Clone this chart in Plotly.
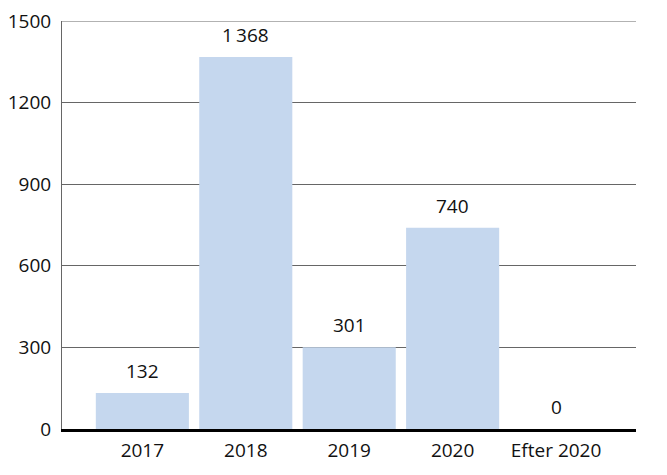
import plotly.graph_objects as go

categories = ["2017", "2018", "2019", "2020", "Efter 2020"]
values = [132, 1368, 301, 740, 0]
value_labels = ["132", "1\u2009368", "301", "740", "0"]
y_ticks = [0, 300, 600, 900, 1200, 1500]

FONT = "Open Sans"
TXT = "#111111"

fig = go.Figure()
fig.add_trace(go.Bar(
    x=categories, y=values,
    marker=dict(color="#c5d7ee", line=dict(width=0)),
    hoverinfo="skip",
))

for i, (v, t) in enumerate(zip(values, value_labels)):
    fig.add_annotation(x=i, y=v, xref="x", yref="y", text=t, showarrow=False,
                       yanchor="bottom", yshift=7,
                       font=dict(family=FONT, size=19, color=TXT))

# top gridline at the upper edge of the plot
fig.add_shape(type="line", xref="paper", yref="y", x0=0, x1=1,
              y0=y_ticks[-1], y1=y_ticks[-1],
              line=dict(color="#666666", width=1))

fig.update_layout(
    width=667, height=475,
    margin=dict(l=62, r=31, t=21, b=46, autoexpand=False),
    paper_bgcolor="white", plot_bgcolor="white",
    bargap=0.1,
    showlegend=False,
    font=dict(family=FONT, size=19, color=TXT),
    xaxis=dict(
        type="category", automargin=False,
        range=[-0.777, 4.773],
        showline=True, linecolor="black", linewidth=3,
        showgrid=False, ticks="", ticklabelstandoff=2,
        tickfont=dict(family=FONT, size=19, color=TXT),
    ),
    yaxis=dict(
        automargin=False,
        range=[0, 1500], tickvals=y_ticks,
        ticktext=[str(v) for v in y_ticks],
        showgrid=True, gridcolor="#666666", gridwidth=1,
        showline=True, linecolor="#666666", linewidth=1,
        zeroline=False, ticks="", ticklabelstandoff=6,
        tickfont=dict(family=FONT, size=19, color=TXT),
    ),
)

fig.write_html("out.html")
